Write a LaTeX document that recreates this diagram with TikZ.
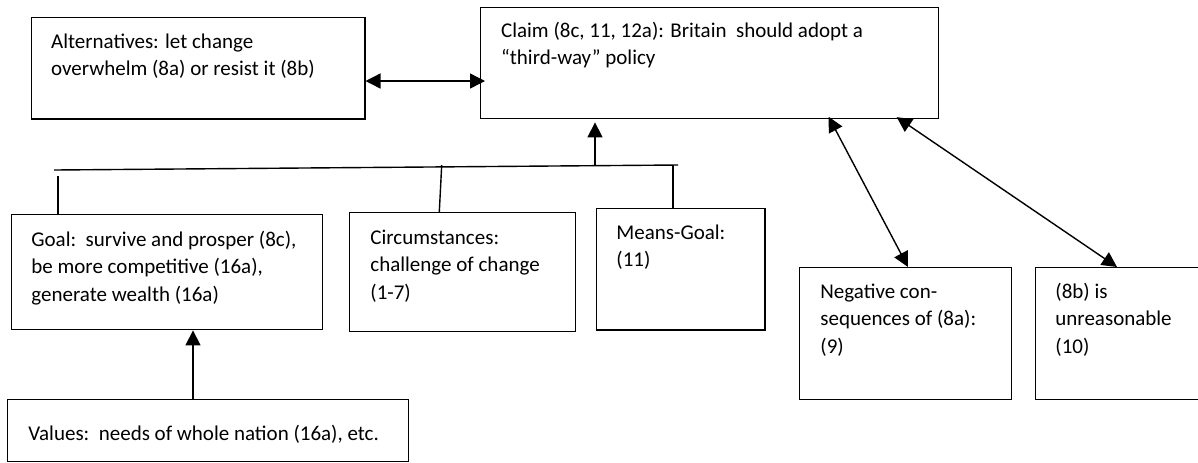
\documentclass[tikz,border=0pt]{standalone}
\usepackage{fontspec}
\setmainfont{Carlito}
\usetikzlibrary{arrows.meta,calc}
\begin{document}
\begin{tikzpicture}[x=0.5pt,y=-0.5pt,
  box/.style={draw=black,line width=0.7pt,anchor=north west,inner sep=0pt},
  txt/.style={anchor=north west,inner sep=0pt,align=left,font=\fontsize{10.5pt}{13.75pt}\selectfont},
  conn/.style={draw=black,line width=0.7pt},
  tip/.style={-{Triangle[length=7.5pt,width=7.5pt]}},
  dbl/.style={{Triangle[length=7.5pt,width=7.5pt]}-{Triangle[length=7.5pt,width=7.5pt]}}]
\useasboundingbox (0,0) rectangle (1198,462);
\begin{scope}
\clip (0,0) rectangle (1198,462);
% boxes
\node[box,minimum width=166.7pt,minimum height=50.7pt] (alt) at (30.7,16.7) {};
\node[box,minimum width=229pt,minimum height=55.5pt] (claim) at (480,7) {};
\node[box,minimum width=155.5pt,minimum height=57.5pt] (goal) at (11,214) {};
\node[box,minimum width=113pt,minimum height=59.5pt] (circ) at (349,212) {};
\node[box,minimum width=84.2pt,minimum height=60.7pt] (means) at (595.7,207.7) {};
\node[box,minimum width=106pt,minimum height=66pt] (neg) at (799,267) {};
\node[box,minimum width=102.5pt,minimum height=66pt] (eightb) at (1035,267) {};
\node[box,minimum width=200.5pt,minimum height=31pt] (val) at (7,399) {};
% texts
\node[txt] (altT) at (50.7,28.75) {\strut Alternatives: let change\\overwhelm (8a) or resist it (8b)};
\node[txt] (claimT) at (500.7,17.75) {\strut Claim (8c, 11, 12a): Britain\ \ should adopt a\\“third-way” policy};
\node[txt] (goalT) at (31,226.75) {\strut Goal:\ \ survive and prosper (8c),\\be more competitive (16a),\\generate wealth (16a)};
\node[txt] (circT) at (370,224.75) {\strut Circumstances:\\challenge of change\\(1-7)};
\node[txt] (meansT) at (616,219.75) {\strut Means-Goal:\\(11)};
\node[txt] (negT) at (820,278.75) {\strut Negative con-\\sequences of (8a):\\(9)};
\node[txt] (eightbT) at (1055,278.75) {\strut (8b) is\\unreasonable\\(10)};
\node[txt] (valT) at (28,420.75) {\strut Values:\ \ needs of whole nation (16a), etc.};
% connectors
\coordinate (aY) at (0,81);
\draw[conn,dbl,shorten >=-2.5pt] (alt.east|-aY) -- (claim.west|-aY);
\coordinate (barL) at (54,170);
\coordinate (barR) at (678,165);
\draw[conn] (barL) -- (barR);
\coordinate (upB) at (595,165);
\draw[conn,tip,shorten >=1.5pt] (upB) -- (upB|-claim.south);
\coordinate (t1) at (58,176);
\draw[conn] (t1) -- (t1|-goal.north);
\coordinate (t2) at (441.7,165);
\draw[conn] (t2) -- ($(circ.north west)+(90.3,0)$);
\coordinate (t3) at (673,165);
\draw[conn] (t3) -- (t3|-means.north);
\draw[conn,dbl,shorten <=-1.5pt] ($(claim.south west)+(350,0)$) -- ($(neg.north west)+(109,0)$);
\draw[conn,dbl,shorten <=-2pt] ($(claim.south west)+(420,0)$) -- ($(eightb.north west)+(82,0)$);
\draw[conn,tip] ($(val.north west)+(186,0)$) -- ($(goal.south west)+(182,0)$);
\end{scope}
\end{tikzpicture}
\end{document}
